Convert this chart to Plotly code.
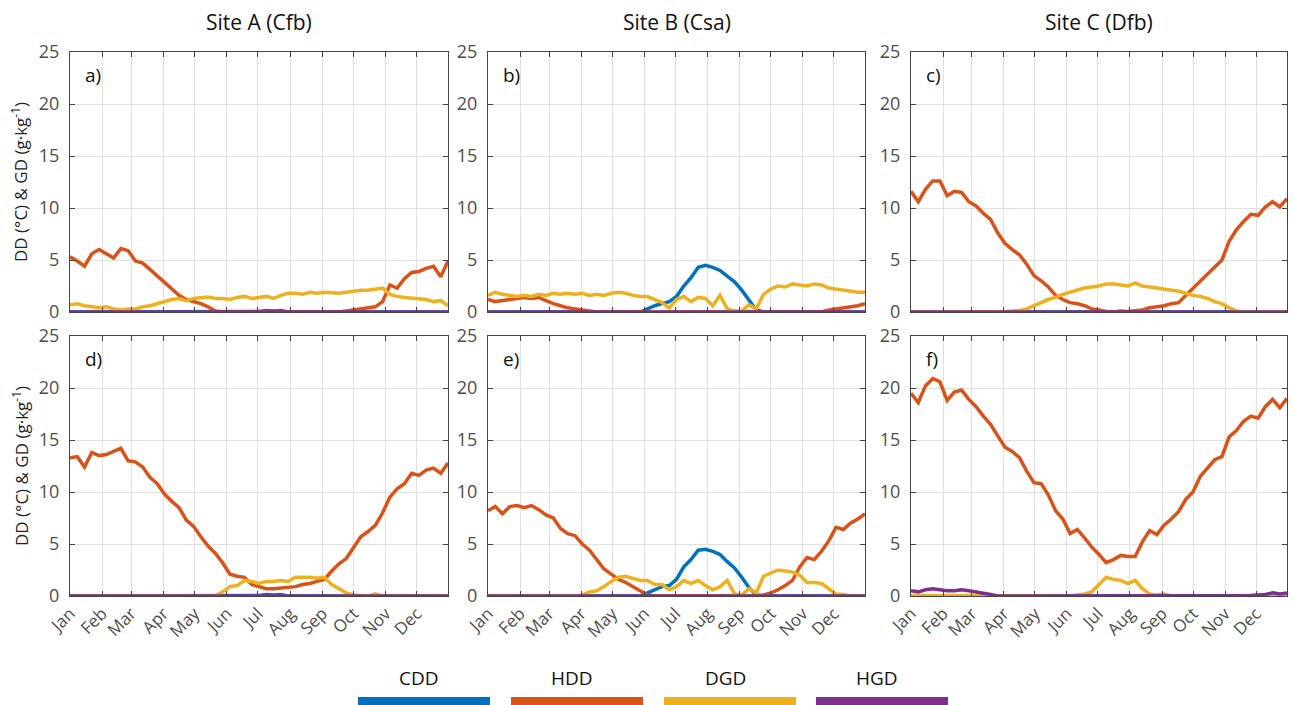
import plotly.graph_objects as go

# ---------------- data ----------------
DAYS = [1, 8, 15, 22, 29, 36, 43, 50, 57, 64, 71, 78, 85, 92, 99, 106, 113, 120,
        127, 134, 141, 148, 155, 162, 169, 176, 183, 190, 197, 204, 211, 218, 225,
        232, 239, 246, 253, 260, 267, 274, 281, 288, 295, 302, 309, 316, 323, 330,
        337, 344, 351, 358, 365]

MONTH_TICKS = [1, 32, 60, 91, 121, 152, 182, 213, 244, 274, 305, 335]
MONTH_LABELS = ["Jan", "Feb", "Mar", "Apr", "May", "Jun",
                "Jul", "Aug", "Sep", "Oct", "Nov", "Dec"]
Y_TICKS = [0, 5, 10, 15, 20, 25]
SITE_TITLES = ["Site A (Cfb)", "Site B (Csa)", "Site C (Dfb)"]
PANEL_LABELS = ["a)", "b)", "c)", "d)", "e)", "f)"]
SERIES_NAMES = ["CDD", "HDD", "DGD", "HGD"]

ZERO = [0, 0, 0, 0, 0, 0, 0, 0, 0, 0,
        0, 0, 0, 0, 0, 0, 0, 0, 0, 0,
        0, 0, 0, 0, 0, 0, 0, 0, 0, 0,
        0, 0, 0, 0, 0, 0, 0, 0, 0, 0,
        0, 0, 0, 0, 0, 0, 0, 0, 0, 0,
        0, 0, 0]

# Panel a) Site A, row 1
CDD_A = [0, 0, 0, 0, 0, 0, 0, 0, 0, 0,
         0, 0, 0, 0, 0, 0, 0, 0, 0, 0,
         0, 0, 0, 0, 0, 0, 0.05, 0.15, 0.1, 0.15,
         0, 0, 0, 0, 0, 0, 0, 0, 0, 0,
         0, 0, 0, 0, 0, 0, 0, 0, 0, 0,
         0, 0, 0]
HDD_A = [5.3, 4.9, 4.4, 5.6, 6.0, 5.6, 5.2, 6.1, 5.9, 4.9,
         4.7, 4.1, 3.5, 2.9, 2.3, 1.6, 1.2, 1.0, 0.8, 0.5,
         0.1, 0, 0, 0, 0, 0, 0, 0, 0, 0,
         0, 0, 0, 0, 0, 0, 0, 0, 0.1, 0.2,
         0.3, 0.4, 0.5, 1.0, 2.6, 2.3, 3.2, 3.8, 3.9, 4.2,
         4.4, 3.4, 4.9]
DGD_A = [0.7, 0.8, 0.6, 0.5, 0.4, 0.5, 0.3, 0.2, 0.3, 0.3,
         0.5, 0.6, 0.8, 1.0, 1.2, 1.3, 1.1, 1.3, 1.4, 1.45,
         1.3, 1.3, 1.2, 1.4, 1.5, 1.3, 1.4, 1.5, 1.3, 1.6,
         1.8, 1.8, 1.7, 1.9, 1.8, 1.9, 1.85, 1.8, 1.9, 2.0,
         2.1, 2.1, 2.2, 2.3, 1.7, 1.5, 1.4, 1.35, 1.3, 1.2,
         1.0, 1.1, 0.6]
HGD_A = ZERO

# Panel b) Site B, row 1
CDD_B = [0, 0, 0, 0, 0, 0, 0, 0, 0, 0,
         0, 0, 0, 0, 0, 0, 0, 0, 0, 0,
         0, 0, 0.3, 0.6, 0.8, 1.0, 1.5, 2.5, 3.3, 4.3,
         4.5, 4.3, 4.0, 3.4, 2.9, 2.1, 1.2, 0.2, 0, 0,
         0, 0, 0, 0, 0, 0, 0, 0, 0, 0,
         0, 0, 0]
HDD_B = [1.2, 1.0, 1.1, 1.2, 1.3, 1.4, 1.3, 1.4, 1.1, 0.8,
         0.6, 0.4, 0.3, 0.2, 0.1, 0, 0, 0, 0, 0,
         0, 0, 0, 0, 0, 0, 0, 0, 0, 0,
         0, 0, 0, 0, 0, 0, 0, 0, 0, 0,
         0, 0, 0, 0, 0, 0, 0, 0.2, 0.3, 0.4,
         0.5, 0.6, 0.8]
DGD_B = [1.6, 1.9, 1.7, 1.6, 1.5, 1.6, 1.5, 1.7, 1.6, 1.8,
         1.7, 1.8, 1.7, 1.8, 1.6, 1.7, 1.6, 1.8, 1.9, 1.8,
         1.6, 1.5, 1.5, 1.2, 0.9, 0.4, 1.2, 1.5, 1.0, 1.4,
         1.3, 0.6, 1.6, 0.3, 0.1, 0.1, 0.7, 0.3, 1.7, 2.2,
         2.5, 2.4, 2.7, 2.6, 2.5, 2.7, 2.6, 2.3, 2.2, 2.1,
         2.0, 1.9, 1.9]
HGD_B = ZERO

# Panel c) Site C, row 1
CDD_C = ZERO
HDD_C = [11.6, 10.6, 11.8, 12.6, 12.6, 11.2, 11.6, 11.5, 10.6, 10.2,
         9.5, 8.9, 7.6, 6.6, 6.0, 5.5, 4.6, 3.5, 3.0, 2.4,
         1.6, 1.2, 0.9, 0.8, 0.6, 0.3, 0.2, 0.05, 0.0, 0.1,
         0.05, 0.1, 0.2, 0.4, 0.5, 0.6, 0.8, 0.9, 1.6, 2.3,
         2.9, 3.6, 4.3, 5.0, 6.8, 7.9, 8.7, 9.4, 9.3, 10.1,
         10.6, 10.1, 10.9]
DGD_C = [0, 0, 0, 0, 0, 0, 0, 0, 0, 0,
         0, 0, 0, 0.05, 0.1, 0.15, 0.3, 0.6, 0.9, 1.2,
         1.4, 1.7, 1.9, 2.1, 2.3, 2.4, 2.5, 2.7, 2.7, 2.6,
         2.5, 2.8, 2.5, 2.4, 2.3, 2.2, 2.1, 2.0, 1.8, 1.6,
         1.5, 1.3, 1.0, 0.8, 0.4, 0.1, 0, 0, 0, 0,
         0, 0, 0]
HGD_C = ZERO

# Panel d) Site A, row 2
CDD_D = [0, 0, 0, 0, 0, 0, 0, 0, 0, 0,
         0, 0, 0, 0, 0, 0, 0, 0, 0, 0,
         0, 0, 0, 0, 0, 0, 0.05, 0.15, 0.1, 0.15,
         0, 0, 0, 0, 0, 0, 0, 0, 0, 0,
         0, 0, 0, 0, 0, 0, 0, 0, 0, 0,
         0, 0, 0]
HDD_D = [13.3, 13.4, 12.4, 13.8, 13.5, 13.6, 13.9, 14.2, 13.0, 12.9,
         12.4, 11.4, 10.8, 9.8, 9.1, 8.5, 7.3, 6.7, 5.7, 4.8,
         4.1, 3.2, 2.1, 1.9, 1.8, 1.1, 0.9, 0.7, 0.7, 0.75,
         0.8, 0.9, 1.1, 1.2, 1.4, 1.6, 2.4, 3.1, 3.6, 4.6,
         5.7, 6.2, 6.8, 8.0, 9.5, 10.3, 10.8, 11.8, 11.6, 12.1,
         12.3, 11.8, 12.8]
DGD_D = [0, 0, 0, 0, 0, 0, 0, 0, 0, 0,
         0, 0, 0, 0, 0, 0, 0, 0, 0, 0,
         0, 0.4, 0.9, 1.0, 1.5, 1.4, 1.2, 1.4, 1.4, 1.5,
         1.4, 1.8, 1.8, 1.8, 1.7, 1.8, 1.1, 0.7, 0.3, 0.1,
         0.05, 0, 0.2, 0, 0, 0, 0, 0, 0, 0,
         0, 0, 0]
HGD_D = ZERO

# Panel e) Site B, row 2
CDD_E = [0, 0, 0, 0, 0, 0, 0, 0, 0, 0,
         0, 0, 0, 0, 0, 0, 0, 0, 0, 0,
         0, 0, 0.3, 0.6, 0.9, 1.0, 1.6, 2.8, 3.5, 4.4,
         4.5, 4.3, 4.0, 3.3, 2.7, 1.8, 0.8, 0.1, 0, 0,
         0, 0, 0, 0, 0, 0, 0, 0, 0, 0,
         0, 0, 0]
HDD_E = [8.2, 8.6, 7.9, 8.6, 8.7, 8.5, 8.7, 8.3, 7.8, 7.5,
         6.5, 6.0, 5.8, 5.0, 4.4, 3.5, 2.6, 2.1, 1.6, 1.3,
         0.9, 0.5, 0.1, 0, 0, 0, 0, 0, 0, 0,
         0, 0, 0, 0, 0, 0, 0, 0, 0.1, 0.3,
         0.6, 1.0, 1.5, 2.8, 3.7, 3.5, 4.3, 5.3, 6.6, 6.4,
         7.0, 7.4, 7.9]
DGD_E = [0, 0, 0, 0, 0, 0, 0, 0, 0, 0,
         0, 0, 0, 0.1, 0.4, 0.5, 0.9, 1.4, 1.8, 1.9,
         1.7, 1.5, 1.5, 1.1, 1.1, 0.6, 0.9, 1.5, 1.2, 1.5,
         1.0, 0.6, 0.9, 1.5, 0.2, 0.1, 0.7, 0.3, 1.9, 2.2,
         2.5, 2.4, 2.3, 2.0, 1.3, 1.3, 1.2, 0.7, 0.2, 0.15,
         0, 0, 0]
HGD_E = ZERO

# Panel f) Site C, row 2
CDD_F = ZERO
HDD_F = [19.5, 18.6, 20.2, 20.9, 20.6, 18.8, 19.6, 19.8, 18.9, 18.2,
         17.3, 16.5, 15.4, 14.3, 13.9, 13.3, 12.0, 10.9, 10.8, 9.7,
         8.2, 7.4, 6.0, 6.4, 5.6, 4.7, 4.0, 3.2, 3.5, 3.9,
         3.8, 3.8, 5.2, 6.3, 5.9, 6.8, 7.4, 8.1, 9.3, 10.0,
         11.5, 12.3, 13.1, 13.4, 15.3, 15.9, 16.8, 17.3, 17.1, 18.2,
         18.9, 18.1, 19.0]
DGD_F = [0.05, 0.05, 0.05, 0.05, 0.05, 0.05, 0.05, 0.05, 0.05, 0.05,
         0.03, 0, 0, 0, 0, 0, 0, 0, 0, 0,
         0, 0, 0, 0.1, 0.2, 0.4, 1.1, 1.8, 1.6, 1.5,
         1.2, 1.5, 0.7, 0.2, 0.1, 0.2, 0, 0, 0, 0,
         0, 0, 0, 0, 0, 0, 0, 0, 0, 0.05,
         0.05, 0.05, 0.05]
HGD_F = [0.5, 0.4, 0.6, 0.7, 0.6, 0.5, 0.5, 0.6, 0.5, 0.4,
         0.3, 0.15, 0, 0, 0, 0, 0, 0, 0, 0,
         0, 0, 0, 0, 0, 0, 0, 0, 0, 0,
         0, 0, 0, 0, 0, 0, 0, 0, 0, 0,
         0, 0, 0, 0, 0, 0, 0, 0.05, 0.1, 0.15,
         0.3, 0.2, 0.3]

PANELS = [
    (CDD_A, HDD_A, DGD_A, HGD_A),
    (CDD_B, HDD_B, DGD_B, HGD_B),
    (CDD_C, HDD_C, DGD_C, HGD_C),
    (CDD_D, HDD_D, DGD_D, HGD_D),
    (CDD_E, HDD_E, DGD_E, HGD_E),
    (CDD_F, HDD_F, DGD_F, HGD_F),
]

# ---------------- style ----------------
COLORS = ["#0072BD", "#D95319", "#EDB120", "#7E2F8E"]
FONT = "Open Sans"
W, H = 1293, 705
X_DOMAINS = [(70 / W, 448 / W), (488 / W, 865 / W), (911 / W, 1287 / W)]
Y_DOMAINS = [(1 - 312 / H, 1 - 52 / H), (1 - 596 / H, 1 - 336 / H)]

fig = go.Figure()
layout = dict(
    width=W, height=H, autosize=False,
    margin=dict(l=0, r=0, t=0, b=0, autoexpand=False),
    paper_bgcolor="white", plot_bgcolor="white",
    showlegend=False,
    font=dict(family=FONT, color="#4d4d4d"),
)

annotations = []
shapes = []

for i, series in enumerate(PANELS):
    row, col = divmod(i, 3)
    n = i + 1
    xa = "x" if n == 1 else f"x{n}"
    ya = "y" if n == 1 else f"y{n}"
    for name, vals, color in zip(SERIES_NAMES, series, COLORS):
        fig.add_trace(go.Scatter(
            x=DAYS, y=vals, mode="lines", name=name,
            line=dict(color=color, width=3.5),
            xaxis=xa, yaxis=ya, showlegend=False,
        ))
    layout[f"xaxis{n}" if n > 1 else "xaxis"] = dict(
        domain=X_DOMAINS[col], anchor=ya, range=[1, 365], automargin=False,
        tickmode="array", tickvals=MONTH_TICKS, ticktext=MONTH_LABELS,
        showticklabels=(row == 1),
        tickangle=-45, tickfont=dict(size=17, color="#4d4d4d", family=FONT),
        ticks="inside", ticklen=5, tickcolor="#444",
        showline=True, linecolor="#444", linewidth=1, mirror="ticks",
        showgrid=True, gridcolor="#e0e0e0", gridwidth=1, zeroline=False,
    )
    layout[f"yaxis{n}" if n > 1 else "yaxis"] = dict(
        domain=Y_DOMAINS[row], anchor=xa, range=[0, 25], automargin=False,
        tickmode="array", tickvals=Y_TICKS,
        tickfont=dict(size=18, color="#4d4d4d", family=FONT),
        ticks="inside", ticklen=5, tickcolor="#444", ticklabelstandoff=6,
        showline=True, linecolor="#444", linewidth=1, mirror="ticks",
        showgrid=True, gridcolor="#e0e0e0", gridwidth=1, zeroline=False,
    )
    # panel letter
    annotations.append(dict(
        text=PANEL_LABELS[i], xref=f"{xa} domain", yref=f"{ya} domain",
        x=0.035, y=0.91, xanchor="left", yanchor="middle", showarrow=False,
        font=dict(size=19, color="#111", family=FONT),
    ))

# site titles
for col, title in enumerate(SITE_TITLES):
    annotations.append(dict(
        text=title, xref="paper", yref="paper",
        x=(X_DOMAINS[col][0] + X_DOMAINS[col][1]) / 2, y=1 - 22 / H,
        xanchor="center", yanchor="middle", showarrow=False,
        font=dict(size=21, color="#111", family=FONT),
    ))

# y-axis titles
for row in range(2):
    annotations.append(dict(
        text="DD (°C) & GD (g·kg<sup>-1</sup>)", xref="paper", yref="paper",
        x=20 / W, y=(Y_DOMAINS[row][0] + Y_DOMAINS[row][1]) / 2,
        xanchor="center", yanchor="middle", textangle=-90, showarrow=False,
        font=dict(size=17, color="#222", family=FONT),
    ))

# custom legend: label above a thick colour bar
LEG_CENTERS = [424, 577, 730, 882]
for name, color, cx in zip(SERIES_NAMES, COLORS, LEG_CENTERS):
    shapes.append(dict(
        type="rect", xref="paper", yref="paper",
        x0=(cx - 66) / W, x1=(cx + 66) / W, y0=0, y1=1 - 697 / H,
        fillcolor=color, line=dict(width=0),
    ))
    annotations.append(dict(
        text=name, xref="paper", yref="paper",
        x=(cx - 5) / W, y=1 - 678 / H, xanchor="center", yanchor="middle",
        showarrow=False, font=dict(size=19, color="#111", family=FONT),
    ))

layout["annotations"] = annotations
layout["shapes"] = shapes
fig.update_layout(**layout)
fig.write_html(
    "out.html",
    config={"displayModeBar": False},
    post_script="document.body.style.margin='0';document.body.style.overflow='hidden';",
)
